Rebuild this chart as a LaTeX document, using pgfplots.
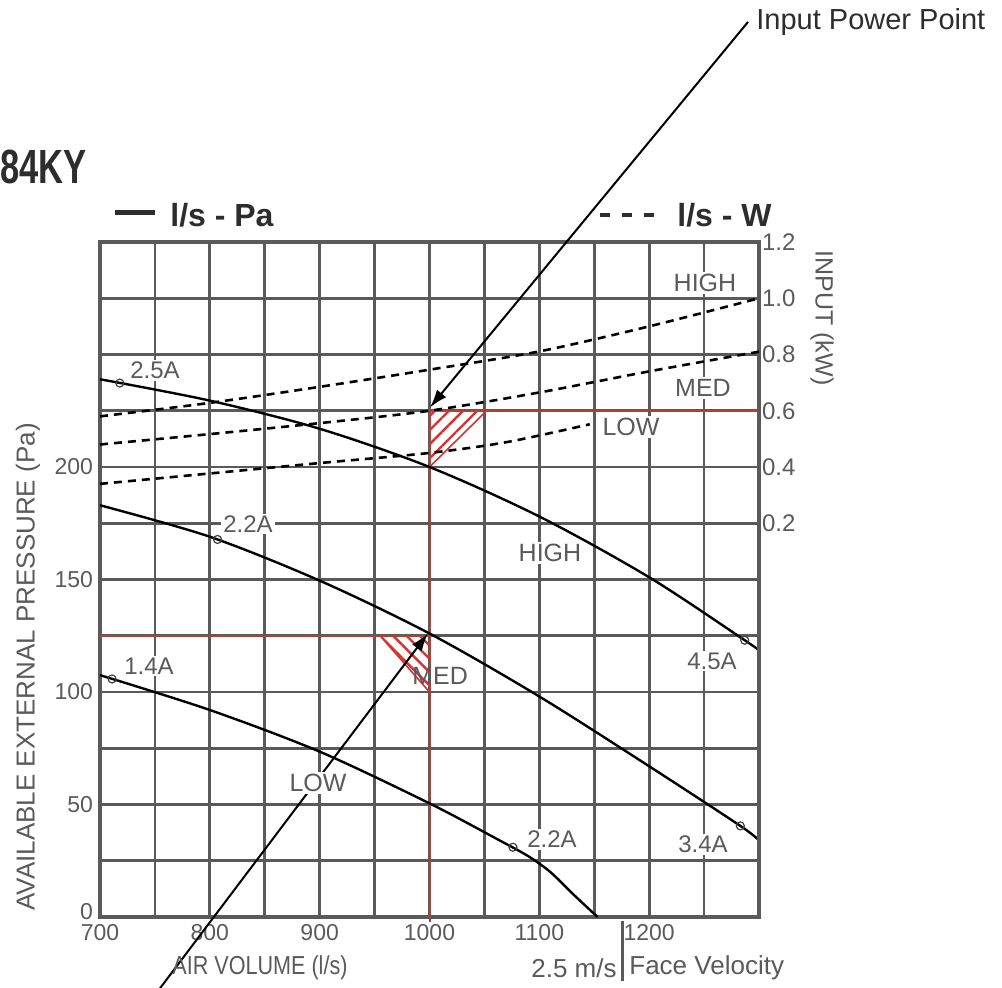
\documentclass[border=0pt]{standalone}
\usepackage{fontspec}
\setmainfont{Liberation Sans}
\usepackage{graphicx}
\usepackage{pgfplots}
\pgfplotsset{compat=1.18}
\usetikzlibrary{patterns.meta,arrows.meta}

\definecolor{gridc}{RGB}{90,90,90}
\definecolor{txt}{RGB}{90,90,90}
\definecolor{dark}{RGB}{45,45,45}
\definecolor{redl}{RGB}{175,65,50}
\definecolor{hatch}{RGB}{215,50,50}

\begin{document}
\begin{tikzpicture}
\useasboundingbox (-50pt,-35pt) rectangle (451pt,458.5pt);

\begin{axis}[
  at={(0pt,0pt)}, anchor=south west,
  scale only axis, width=329.5pt, height=337.5pt,
  xmin=700, xmax=1300, ymin=0, ymax=300,
  xtick={700,750,...,1300},
  xticklabels={700,{},800,{},900,{},1000,{},1100,{},1200,{},{}},
  ytick={0,25,...,300},
  yticklabels={\raisebox{6pt}{0},{},50,{},100,{},150,{},200,{},{},{},{}},
  major tick length=0pt,
  grid=major,
  grid style={gridc, line width=1.4pt},
  axis line style={gridc, line width=1.6pt},
  tick label style={text=txt, font=\fontsize{11.5}{13}\selectfont},
  clip=false,
]
% red reference lines
\draw[redl, line width=1pt] (axis cs:700,125) -- (axis cs:1000,125);
\draw[redl, line width=1pt] (axis cs:1000,-2) -- (axis cs:1000,225) -- (axis cs:1300,225);
% hatched triangles
\fill[pattern={Lines[angle=45,distance=5pt,line width=1.2pt]}, pattern color=hatch]
  (axis cs:1000,225) -- (axis cs:1052,225) -- (axis cs:1000,200) -- cycle;
\draw[hatch, line width=0.8pt] (axis cs:1052,225) -- (axis cs:1000,200);
\fill[pattern={Lines[angle=-45,distance=4.7pt,line width=1.2pt]}, pattern color=hatch]
  (axis cs:955,125) -- (axis cs:1000,125) -- (axis cs:1000,100) -- cycle;
\draw[hatch, line width=0.8pt] (axis cs:955,125) -- (axis cs:1000,100);

% l/s - Pa curves
\addplot[black, line width=1.2pt, smooth] coordinates {
 (700,239) (800,229.5) (900,217) (1000,200) (1100,178) (1200,151) (1287,123) (1300,118.5)};
\addplot[black, line width=1.2pt, smooth] coordinates {
 (700,183) (800,169) (900,149.5) (1000,126) (1100,98) (1200,67) (1283,40.5) (1300,34)};
\addplot[black, line width=1.2pt, smooth] coordinates {
 (700,107.5) (800,92) (900,73.5) (1000,50.5) (1064,34) (1090,27) (1110,20) (1130,10.5) (1153,0)};
% current markers
\addplot[only marks, mark=o, mark size=2pt, black!75, mark options={line width=0.6pt, fill=white}] coordinates {
 (718,237.3) (807,167.8) (711,105.8) (1287,123) (1283,40.5) (1076,31)};

% annotation arrows
\draw[black, line width=1pt, -{Latex[length=9pt,width=6pt]}]
  (axis cs:1290,397.8) -- (axis cs:1000.5,226.5);
\draw[black, line width=1pt, -{Latex[length=9pt,width=6pt]}]
  (axis cs:752.6,-33) -- (axis cs:998.5,126);

% curve labels
\begin{scope}[every node/.style={text=txt, inner sep=1pt, fill=white, font=\fontsize{12}{13}\selectfont}]
\node at (axis cs:750.1,243.1) {2.5A};
\node at (axis cs:834.7,174.7) {2.2A};
\node at (axis cs:744.6,111.6) {1.4A};
\node at (axis cs:1257.2,113.8) {4.5A};
\node at (axis cs:1249,32.4) {3.4A};
\node at (axis cs:1111.5,34.5) {2.2A};
\node[font=\fontsize{12.5}{13}\selectfont] at (axis cs:1109.7,161.8) {HIGH};
\node[font=\fontsize{12.5}{13}\selectfont, fill=none] at (axis cs:1009.6,107.1) {MED};
\node[font=\fontsize{12.5}{13}\selectfont] at (axis cs:898.5,59.6) {LOW};
\node[font=\fontsize{12.5}{13}\selectfont] at (axis cs:1250.8,281.8) {HIGH};
\node[font=\fontsize{12.5}{13}\selectfont] at (axis cs:1249,235.1) {MED};
\node[font=\fontsize{12.5}{13}\selectfont] at (axis cs:1183.5,217.8) {LOW};
\end{scope}
\end{axis}

% right axis: input power (kW)
\begin{axis}[
  at={(0pt,0pt)}, anchor=south west,
  scale only axis, width=329.5pt, height=337.5pt,
  xmin=700, xmax=1300, ymin=-1.2, ymax=1.2,
  axis x line=none, axis y line*=right,
  ytick={0.2,0.4,0.6,0.8,1.0,1.2},
  yticklabels={0.2,0.4,0.6,0.8,1.0,1.2},
  major tick length=0pt,
  axis line style={gridc, line width=1.6pt},
  tick label style={text=txt, font=\fontsize{12}{13}\selectfont},
  yticklabel style={xshift=-2pt},
  clip=false,
]
\addplot[black, line width=1.3pt, dash pattern=on 4pt off 3pt, smooth] coordinates {
 (700,0.58) (800,0.628) (900,0.685) (1000,0.746) (1100,0.811) (1200,0.90) (1300,1.0)};
\addplot[black, line width=1.3pt, dash pattern=on 4pt off 3pt, smooth] coordinates {
 (700,0.48) (800,0.517) (900,0.556) (1000,0.60) (1100,0.665) (1200,0.74) (1300,0.81)};
\addplot[black, line width=1.3pt, dash pattern=on 4pt off 3pt, smooth] coordinates {
 (700,0.34) (800,0.377) (900,0.414) (1000,0.45) (1071,0.489) (1146,0.552)};
\end{axis}

% outer texts
\node[anchor=west, inner sep=0pt, text=dark] at (-50pt,375pt)
  {\scalebox{0.72}[1]{\fontsize{24}{26}\selectfont\bfseries 84KY}};
\draw[dark, line width=2.5pt] (7.5pt,352pt) -- (27.5pt,352pt);
\node[anchor=west, inner sep=0pt, text=dark, font=\fontsize{16}{18}\selectfont\bfseries] at (35pt,351pt) {l/s - Pa};
\draw[dark, line width=2pt, dash pattern=on 5pt off 6pt] (250pt,351pt) -- (277.5pt,351pt);
\node[anchor=west, inner sep=0pt, text=dark, font=\fontsize{16}{18}\selectfont\bfseries] at (288.5pt,351pt) {l/s - W};
\node[anchor=west, inner sep=0pt, text=dark, font=\fontsize{14.5}{16}\selectfont] at (328pt,447.5pt) {Input Power Point};
\node[rotate=90, inner sep=0pt, text=txt, font=\fontsize{13}{14}\selectfont] at (-36pt,125pt) {AVAILABLE EXTERNAL PRESSURE (Pa)};
\node[rotate=-90, inner sep=0pt, text=txt, font=\fontsize{12.5}{14}\selectfont] at (361pt,299.5pt) {INPUT (kW)};
\node[inner sep=0pt, text=txt] at (80pt,-25.5pt) {\scalebox{0.83}[1]{\fontsize{13}{14}\selectfont AIR VOLUME (l/s)}};
\node[anchor=east, inner sep=0pt, text=txt, font=\fontsize{13}{14}\selectfont] at (258.5pt,-25.5pt) {2.5 m/s};
\draw[gridc, line width=1.5pt] (261pt,-2pt) -- (261pt,-32pt);
\node[anchor=west, inner sep=0pt, text=txt, font=\fontsize{13}{14}\selectfont] at (264.5pt,-25.5pt) {Face Velocity};
\end{tikzpicture}
\end{document}
